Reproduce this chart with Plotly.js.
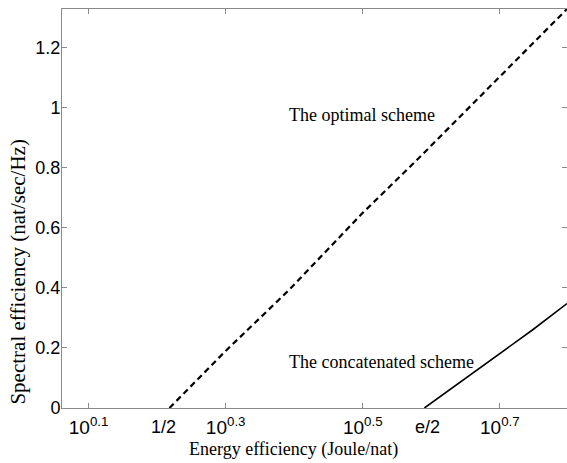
<!DOCTYPE html>
<html>
<head>
<meta charset="utf-8">
<script src="https://cdn.plot.ly/plotly-3.0.1.min.js"></script>
<style>html,body{margin:0;padding:0;background:#fff;}#chart{width:567px;height:463px;}</style>
</head>
<body>
<div id="chart"></div>
<script>
// Values
const optimalX = [1.652, 1.995, 2.466, 3.162, 3.793, 5.012, 6.281];
const optimalY = [0, 0.19, 0.392, 0.65, 0.826, 1.105, 1.329];
const concatX = [3.890, 4.30, 4.699, 5.012, 5.585, 6.281];
const concatY = [0, 0.072, 0.137, 0.184, 0.259, 0.348];

const xTickVals = [Math.pow(10, 0.1), Math.pow(10, 0.3), Math.pow(10, 0.5), Math.pow(10, 0.7)];
const xTickText = ['10<sup>0.1</sup>', '10<sup>0.3</sup>', '10<sup>0.5</sup>', '10<sup>0.7</sup>'];
const yTickVals = [0, 0.2, 0.4, 0.6, 0.8, 1, 1.2];
const yTickText = ['0', '0.2', '0.4', '0.6', '0.8', '1', '1.2'];
const extraLabels = ['1/2', 'e/2'];
const extraLabelLog = [0.209, 0.595];

const serif = 'Liberation Serif, Times New Roman, serif';
const sans = 'Liberation Sans, Arial, sans-serif';
const axisGray = '#8a8a8a';

const traces = [
  {x: optimalX, y: optimalY, mode: 'lines', type: 'scatter',
   line: {color: '#000', width: 2.2, dash: '6px,4px'}, hoverinfo: 'skip'},
  {x: concatX, y: concatY, mode: 'lines', type: 'scatter',
   line: {color: '#000', width: 1.6}, hoverinfo: 'skip'}
];

const annotations = [
  {text: 'The optimal scheme', x: 0.499, y: 0.976, xref: 'x', yref: 'y', showarrow: false,
   font: {family: serif, size: 18, color: '#000'}},
  {text: 'The concatenated scheme', x: 0.528, y: 0.153, xref: 'x', yref: 'y', showarrow: false,
   font: {family: serif, size: 18, color: '#000'}},
  {text: 'Energy efficiency (Joule/nat)', x: (293 - 62) / 505, y: -0.105, xref: 'paper', yref: 'paper',
   xanchor: 'center', yanchor: 'middle', showarrow: false, font: {family: serif, size: 18, color: '#000'}},
  {text: 'Spectral efficiency (nat/sec/Hz)', x: -0.088, y: (408 - 272) / 399, xref: 'paper', yref: 'paper',
   xanchor: 'center', yanchor: 'middle', textangle: -90, showarrow: false,
   font: {family: serif, size: 21, color: '#000'}}
];
extraLabels.forEach((t, i) => {
  annotations.push({text: t, x: extraLabelLog[i], y: 0, xref: 'x', yref: 'paper',
    xanchor: 'center', yanchor: 'top', yshift: -7, showarrow: false,
    font: {family: sans, size: 18, color: '#000'}});
});

const layout = {
  width: 567, height: 463,
  margin: {l: 62, r: 0, t: 9, b: 55},
  paper_bgcolor: '#fff', plot_bgcolor: '#fff',
  showlegend: false,
  xaxis: {type: 'log', range: [0.0612, 0.798], tickvals: xTickVals, ticktext: xTickText,
    ticks: 'inside', ticklen: 5, tickcolor: axisGray, showline: true, linecolor: axisGray, linewidth: 1,
    mirror: 'ticks', showgrid: false, zeroline: false, ticklabelstandoff: 2,
    tickfont: {family: sans, size: 19, color: '#000'}},
  yaxis: {range: [0, 1.329], tickvals: yTickVals, ticktext: yTickText,
    ticks: 'inside', ticklen: 5, tickcolor: axisGray, showline: true, linecolor: axisGray, linewidth: 1,
    mirror: 'ticks', showgrid: false, zeroline: false, ticklabelstandoff: -3,
    tickfont: {family: sans, size: 18, color: '#000'}},
  annotations: annotations
};

Plotly.newPlot('chart', traces, layout, {staticPlot: true, displayModeBar: false});
</script>
</body>
</html>
